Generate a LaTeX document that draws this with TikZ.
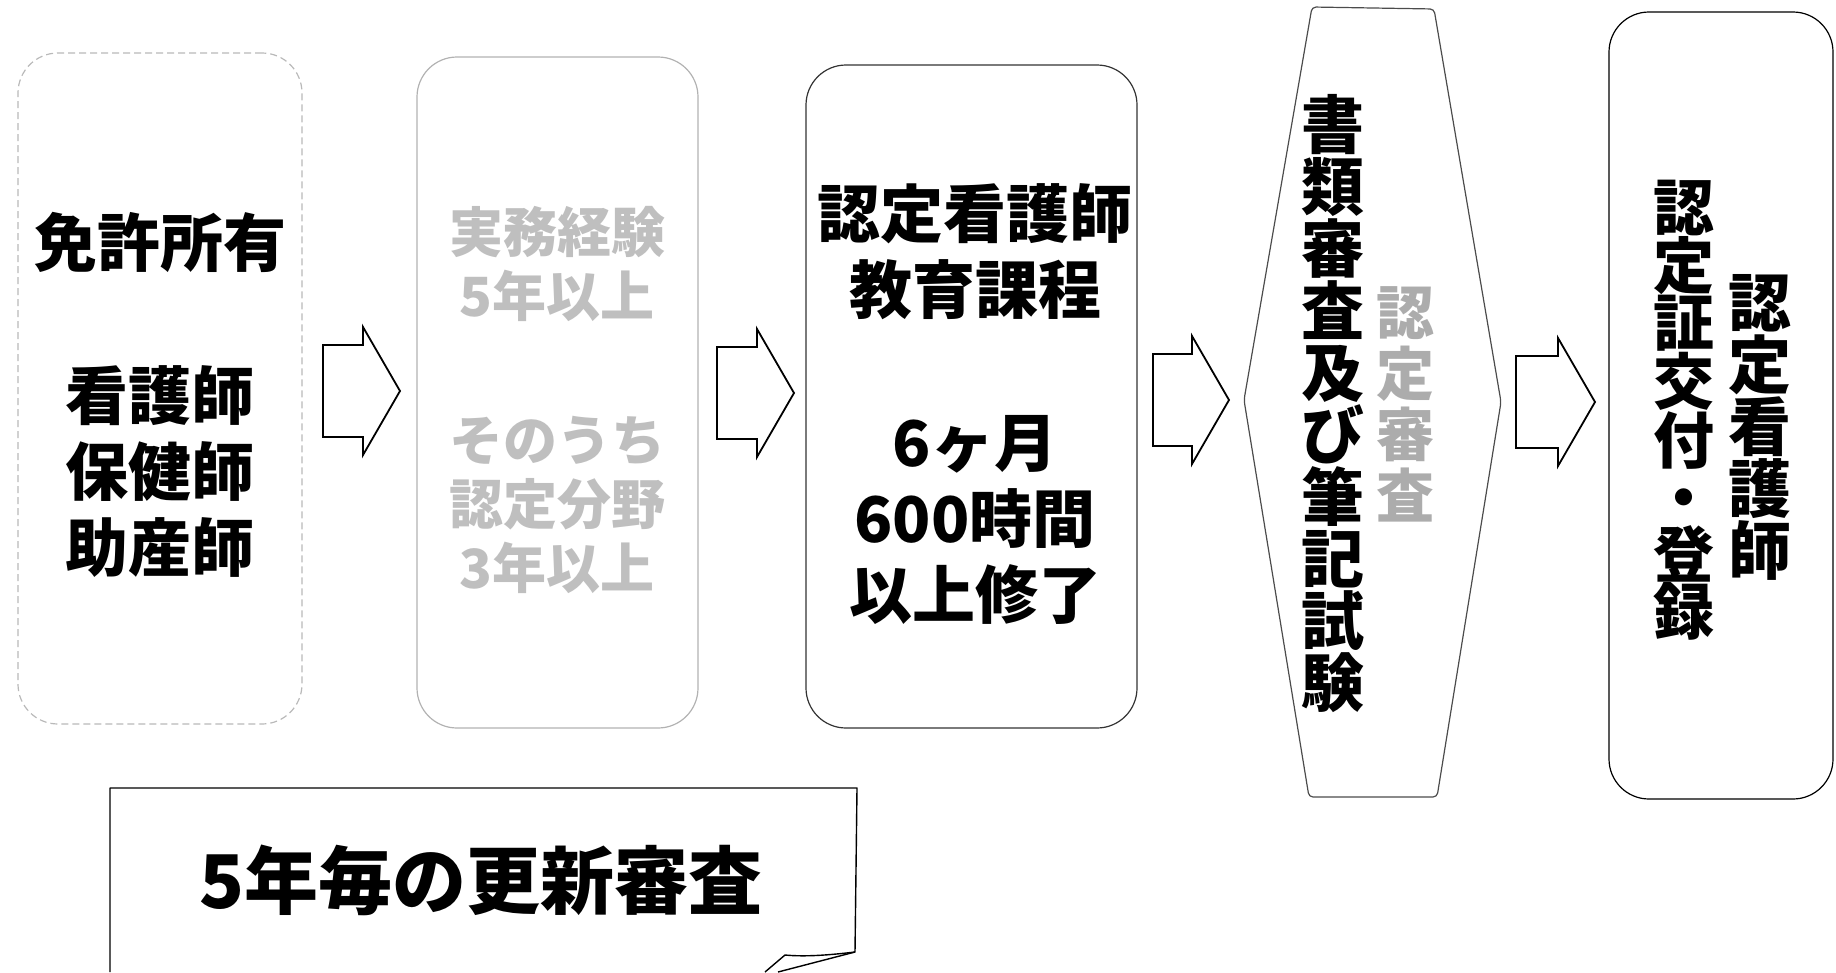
\documentclass[tikz,border=0pt]{standalone}
\usepackage{fontspec}
\newfontfamily\cjk{Noto Sans CJK JP}
\begin{document}
\begin{tikzpicture}[x=1pt,y=-1pt,
  box/.style={draw, rounded corners=40pt, line width=1.2pt, inner sep=0pt},
  blockarrow/.style={draw=black, line width=1.8pt, line join=miter},
  txt/.style={align=center, inner sep=0pt},
  big/.style={txt, font=\cjk\bfseries\fontsize{63}{76}\selectfont},
  mid/.style={txt, text=gray!50, font=\cjk\bfseries\fontsize{54}{64}\selectfont},
  vert/.style={txt, font=\cjk\bfseries\fontsize{63}{62}\selectfont},
  vertnarrow/.style={txt, font=\cjk\bfseries\fontsize{61}{57}\selectfont},
  vertgray/.style={txt, text=gray!65, font=\cjk\bfseries\fontsize{58}{61}\selectfont},
  huge/.style={txt, font=\cjk\bfseries\fontsize{74}{80}\selectfont}]
\useasboundingbox (0,0) rectangle (1836,972);
\newcommand\barrow[3]{%
  \draw[blockarrow] (#1,#3-46) -- (#2-37,#3-46) -- (#2-37,#3-64) -- (#2,#3)
    -- (#2-37,#3+64) -- (#2-37,#3+46) -- (#1,#3+46) -- cycle;}

% boxes
\node[box, draw=gray!55, dash pattern=on 7pt off 4pt, minimum width=284, minimum height=671] (b1) at (160,388.5) {};
\node[box, draw=gray!60, minimum width=281, minimum height=671] (b2) at (557.5,392.5) {};
\node[box, draw=black!80, minimum width=331, minimum height=663] (b3) at (971.5,396.5) {};
\node[box, draw=black, minimum width=224, minimum height=787] (b5) at (1721,405.5) {};

% hexagon
\draw[draw=black!70, line width=1.2pt, rounded corners=4pt]
  (1312,7) -- (1434,9) -- (1501,402) -- (1437,797) -- (1309,797) -- (1244,400) -- cycle;

% bottom note with curled corner
\draw[line width=1.4pt, line join=round]
  (110,972) -- (110,788) -- (857,788) -- (855,952)
  .. controls (830,955) and (805,957) .. (785,955) -- (765,972);
\draw[line width=1.4pt] (855,952) -- (778,972);

% block arrows
\barrow{323}{400}{391}
\barrow{717}{794}{393}
\barrow{1153}{1229}{400}
\barrow{1516}{1595}{402}

% texts
\node[big] (t1a) at (160,242) {免許所有};
\node[big] (t1b) at (160,472) {看護師\\保健師\\助産師};
\node[mid] (t2a) at (557,264) {実務経験\\5年以上};
\node[mid] (t2b) at (557,505) {そのうち\\認定分野\\3年以上};
\node[big] (t3a) at (975,252) {認定看護師\\教育課程};
\node[big] (t3b) at (975,520) {6ヶ月\\600時間\\以上修了};
\node[vert] (t4a) at (1333,404) {書\\類\\審\\査\\及\\び\\筆\\記\\試\\験};
\node[vertgray] (t4b) at (1405,404) {認\\定\\審\\査};
\node[vertnarrow] (t5a) at (1684,410) {認\\定\\証\\交\\付\\・\\登\\録};
\node[vert] (t5b) at (1760,427) {認\\定\\看\\護\\師};
\node[huge] (t6) at (481,880) {5年毎の更新審査};
\end{tikzpicture}
\end{document}
